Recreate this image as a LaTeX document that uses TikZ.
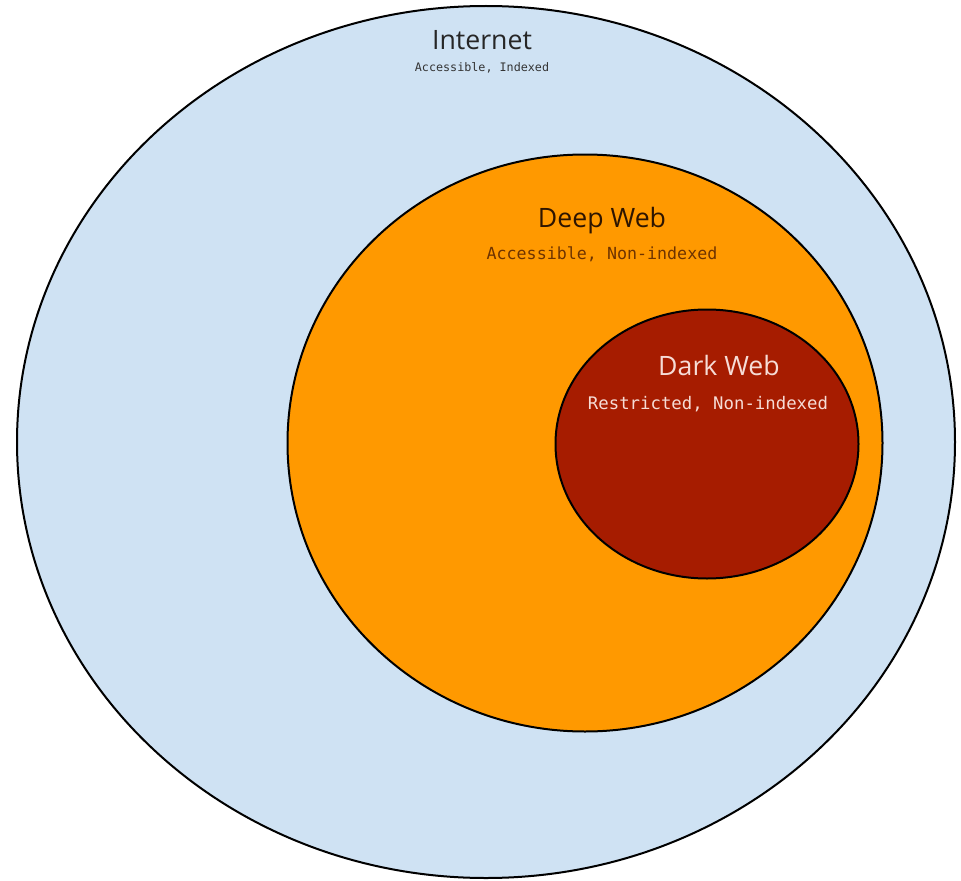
\documentclass[tikz,border=0pt]{standalone}
\usepackage{fontspec}
\setmainfont{Open Sans}
\setmonofont{DejaVu Sans Mono}
\usepackage{tikz}
\usetikzlibrary{shapes.geometric}
\usepackage{xcolor}
\definecolor{netblue}{HTML}{CFE2F3}
\definecolor{deeporange}{HTML}{FF9900}
\definecolor{darkred}{HTML}{A61C00}
\definecolor{deeptext}{HTML}{2E1500}
\definecolor{deepsub}{HTML}{6E3300}
\definecolor{darktext}{HTML}{F6DCD6}

\begin{document}
\begin{tikzpicture}[x=0.75pt, y=-0.75pt]
                % sizes in px of the 961x881 frame
                \tikzstyle{every node}=[inner sep=0pt]
                \tikzstyle{layer}=[ellipse, draw=black, line width=1.5pt]
                \tikzstyle{title}=[font=\fontsize{20}{24}\selectfont]
                \tikzstyle{sub}=[font=\ttfamily\fontsize{12.5}{15}\selectfont]
                \useasboundingbox (0, 0) rectangle (961, 881);
                \node[layer, fill=netblue, minimum width=703.5pt, minimum height=654pt] (internet) at (486, 442) {};
                \node[layer, fill=deeporange, minimum width=446.25pt, minimum height=432.75pt] (deep) at (585, 443) {};
                \node[layer, fill=darkred, minimum width=227.25pt, minimum height=201.75pt] (dark) at (707, 444) {};
                \node[title, text=black!85] (internetT) at (482, 40) {Internet};
                \node[sub, font=\ttfamily\fontsize{8.8}{11}\selectfont, text=black!80] (internetS) at (482, 68) {Accessible, Indexed};
                \node[title, text=deeptext] (deepT) at (602, 221) {Deep Web};
                \node[sub, text=deepsub] (deepS) at (602, 254) {Accessible, Non-indexed};
                \node[title, text=darktext] (darkT) at (719, 365) {Dark Web};
                \node[sub, font=\ttfamily\fontsize{13}{15}\selectfont, text=darktext] (darkS) at (708, 404) {Restricted, Non-indexed};
        \end{tikzpicture}
\end{document}
